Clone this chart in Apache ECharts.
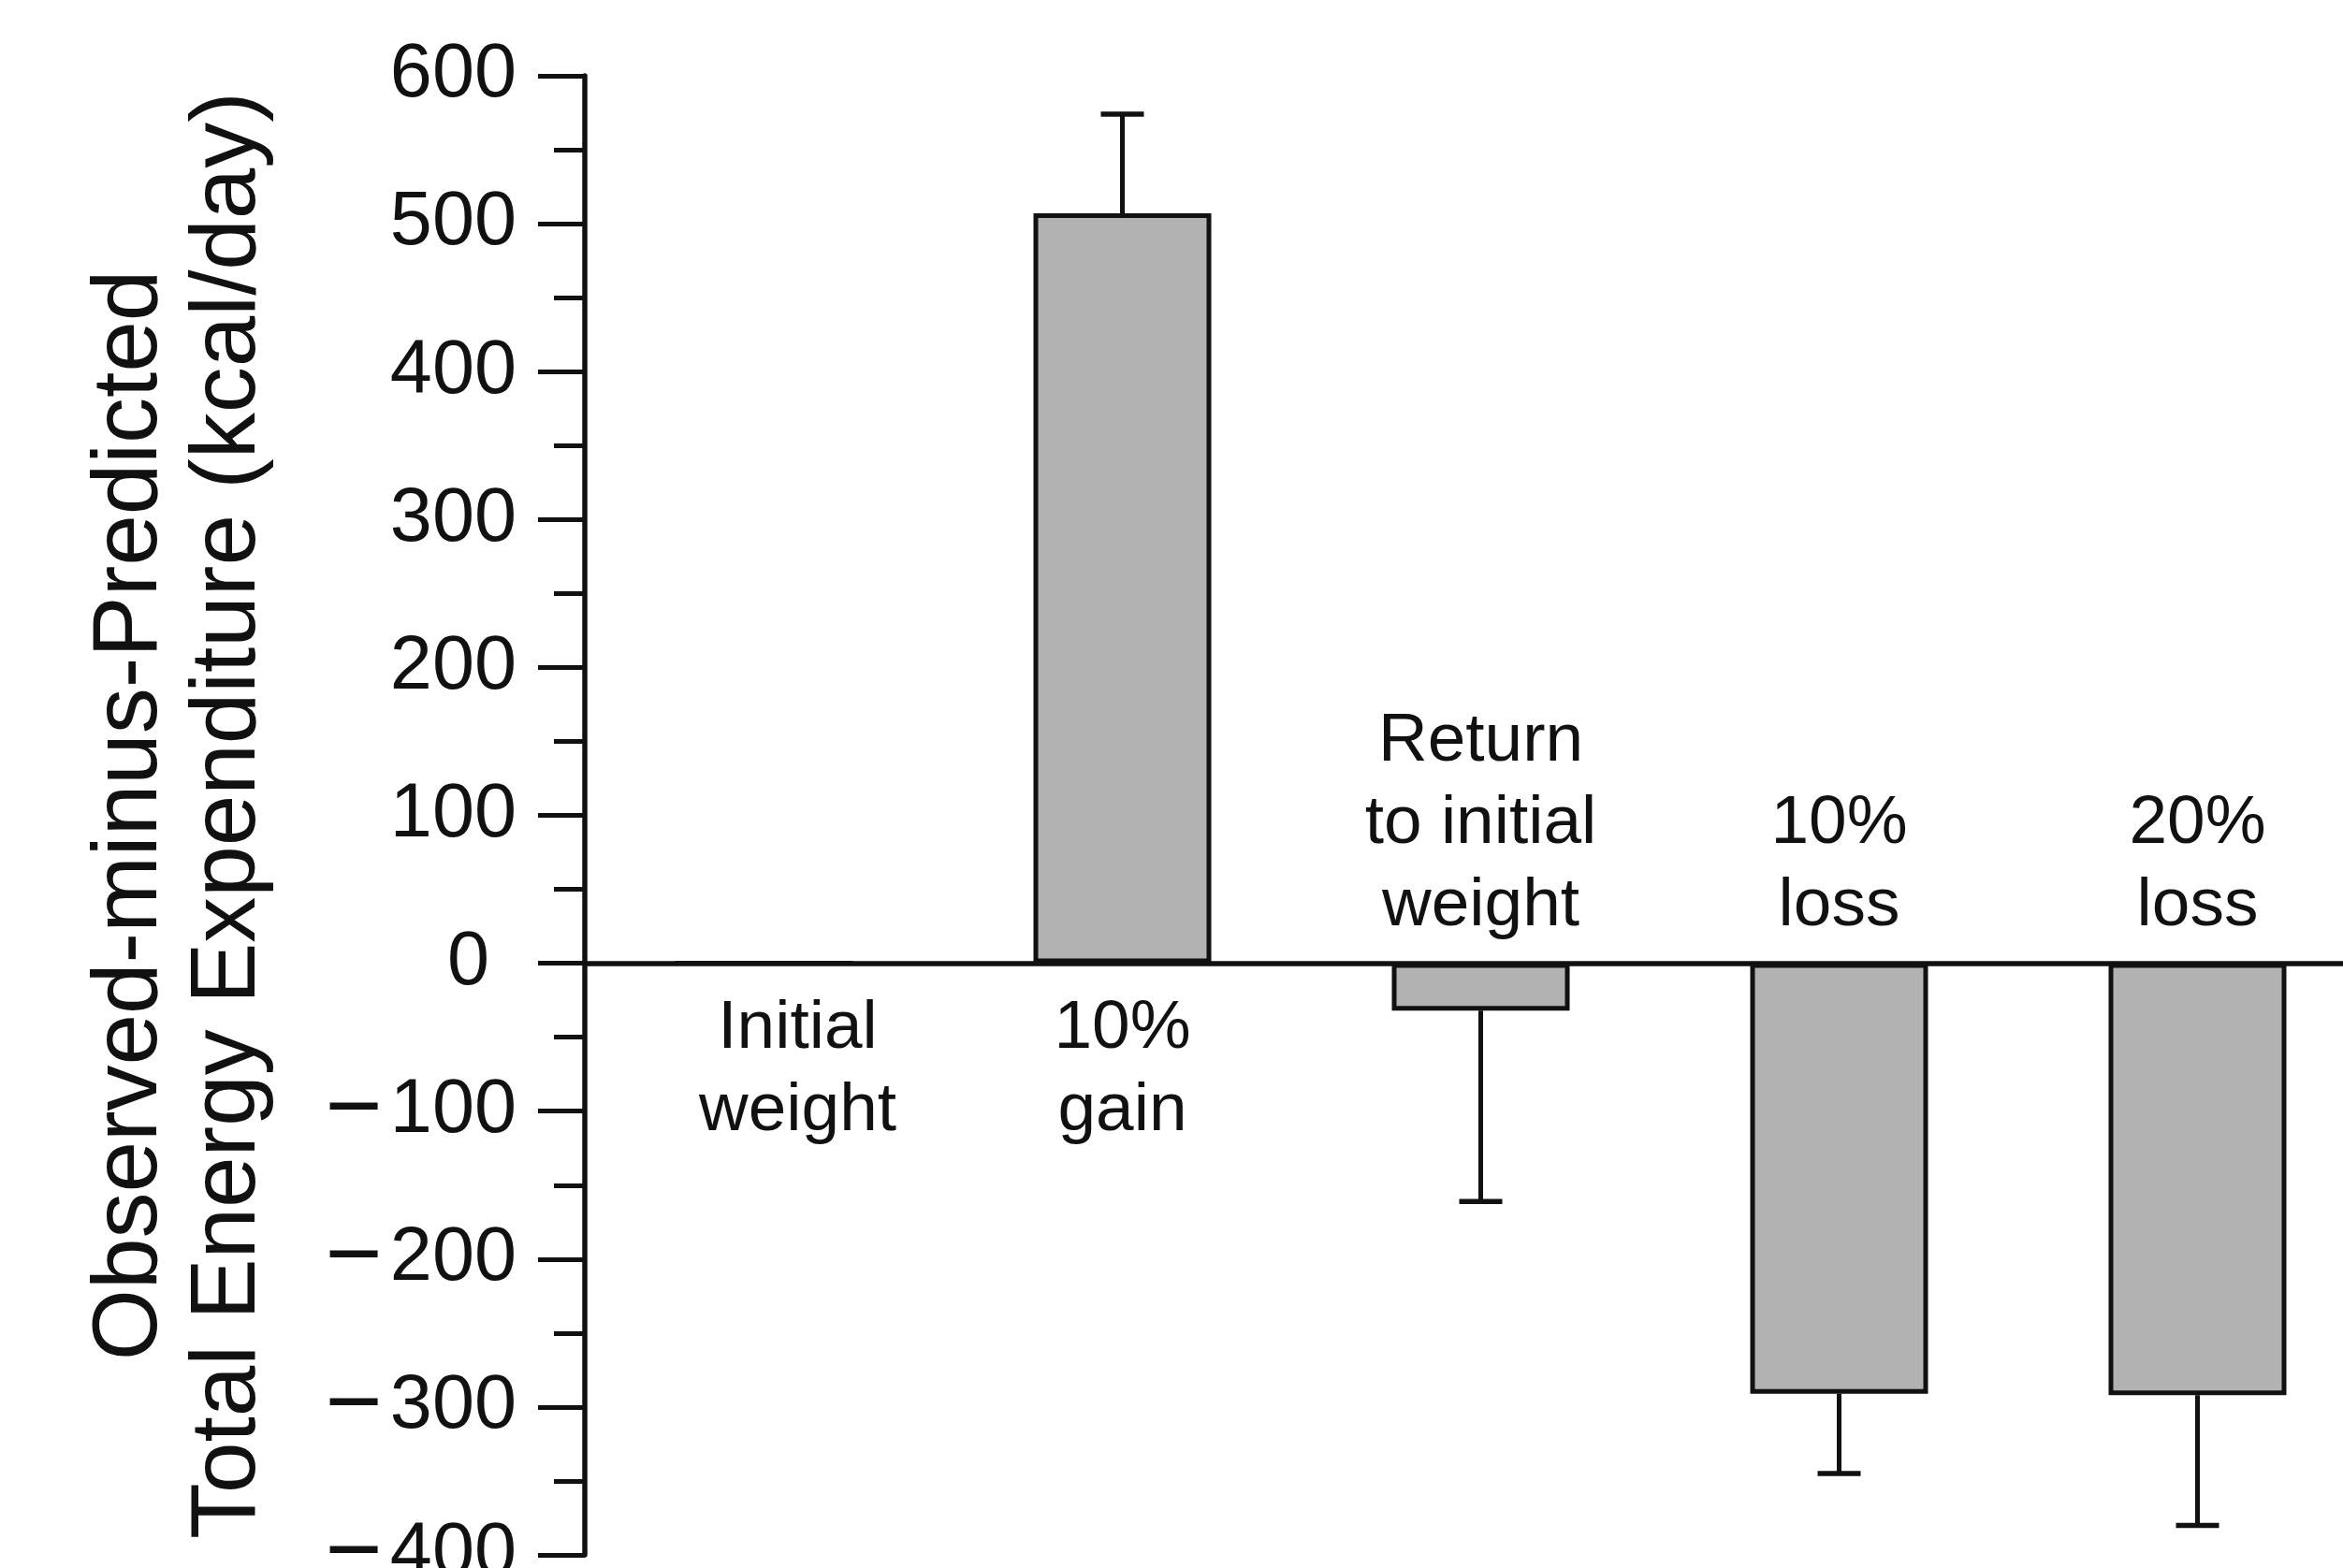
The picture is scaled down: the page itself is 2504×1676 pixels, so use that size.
<!DOCTYPE html>
<html>
<head>
<meta charset="utf-8">
<script src="https://cdn.jsdelivr.net/npm/echarts@6/dist/echarts.min.js"></script>
<style>
html,body{margin:0;padding:0;background:#fff;}
#chart{width:2504px;height:1676px;}
</style>
</head>
<body>
<div id="chart"></div>
<script>
// ---- data ----
const categories = ['Initial\nweight', '10%\ngain', 'Return\nto initial\nweight', '10%\nloss', '20%\nloss'];
const meanValues = [0, 507, -32, -291, -292];
const errorEnds = [null, 574, -161, -345, -380];
const yMin = -400, yMax = 600, yStep = 100;
const yTitle = 'Observed-minus-Predicted\nTotal Energy Expenditure (kcal/day)';

const FONT = '"Liberation Sans", Arial, sans-serif';
const INK = '#111';

const chart = echarts.init(document.getElementById('chart'), null, {renderer: 'canvas'});

const labelData = categories.map((c, i) => {
  const below = meanValues[i] >= 0;
  return {
    value: [i, 0],
    label: {
      position: below ? 'bottom' : 'top',
      distance: below ? 26 : 16,
      offset: i === 0 ? [36, 0] : [0, 0]
    }
  };
});

const errData = [];
categories.forEach((c, i) => {
  if (errorEnds[i] !== null) errData.push([i, meanValues[i], errorEnds[i]]);
});

function tickLabel(v) {
  if (v === 0) return '{z|0}';
  if (v < 0) return '{m|\u2212}{n|' + Math.abs(v) + '}';
  return '{n|' + v + '}';
}

chart.setOption({
  animation: false,
  backgroundColor: '#fff',
  grid: {left: 625, right: -36, top: 81, bottom: 14, containLabel: false, outerBoundsMode: 'none'},
  xAxis: {
    type: 'category',
    data: categories,
    axisLine: {show: true, onZero: true, lineStyle: {color: INK, width: 5.5}},
    axisTick: {show: false},
    axisLabel: {show: false},
    splitLine: {show: false}
  },
  yAxis: {
    type: 'value',
    min: yMin, max: yMax, interval: yStep,
    name: yTitle,
    nameLocation: 'middle',
    nameRotate: 90,
    nameGap: 328,
    nameTextStyle: {fontFamily: FONT, fontSize: 98, lineHeight: 105, color: INK, align: 'center'},
    axisLine: {show: true, lineStyle: {color: INK, width: 5.5}},
    axisTick: {show: true, length: 50, lineStyle: {color: INK, width: 5}},
    minorTick: {show: true, splitNumber: 2, length: 33, lineStyle: {color: INK, width: 5}},
    axisLabel: {
      margin: 73,
      fontFamily: FONT, fontSize: 81, color: INK,
      formatter: tickLabel,
      rich: {
        z: {fontFamily: FONT, fontSize: 81, color: INK, padding: [0, 29, 0, 0]},
        n: {fontFamily: FONT, fontSize: 81, color: INK},
        m: {fontFamily: FONT, fontSize: 105, color: INK, padding: [0, 8, 0, 0]}
      }
    },
    splitLine: {show: false}
  },
  series: [
    {
      type: 'bar',
      data: meanValues,
      barWidth: 190,
      itemStyle: {color: '#b2b2b2', borderColor: INK, borderWidth: 5},
      z: 2
    },
    {
      type: 'custom',
      data: errData,
      z: 3,
      renderItem: function (params, api) {
        const i = api.value(0), v = api.value(1), e = api.value(2);
        const p0 = api.coord([i, v]);
        const p1 = api.coord([i, e]);
        return {
          type: 'group',
          children: [
            {type: 'line', shape: {x1: p0[0], y1: p0[1], x2: p1[0], y2: p1[1]}, style: {stroke: INK, lineWidth: 5}},
            {type: 'line', shape: {x1: p1[0] - 23, y1: p1[1], x2: p1[0] + 23, y2: p1[1]}, style: {stroke: INK, lineWidth: 5.5}}
          ]
        };
      }
    },
    {
      type: 'scatter',
      data: labelData,
      symbolSize: 1,
      itemStyle: {color: 'rgba(0,0,0,0)', opacity: 1},
      z: 4,
      label: {
        show: true,
        fontFamily: FONT, fontSize: 73, lineHeight: 88, color: INK, align: 'center', opacity: 1,
        formatter: p => categories[p.dataIndex]
      }
    }
  ]
});
</script>
</body>
</html>
